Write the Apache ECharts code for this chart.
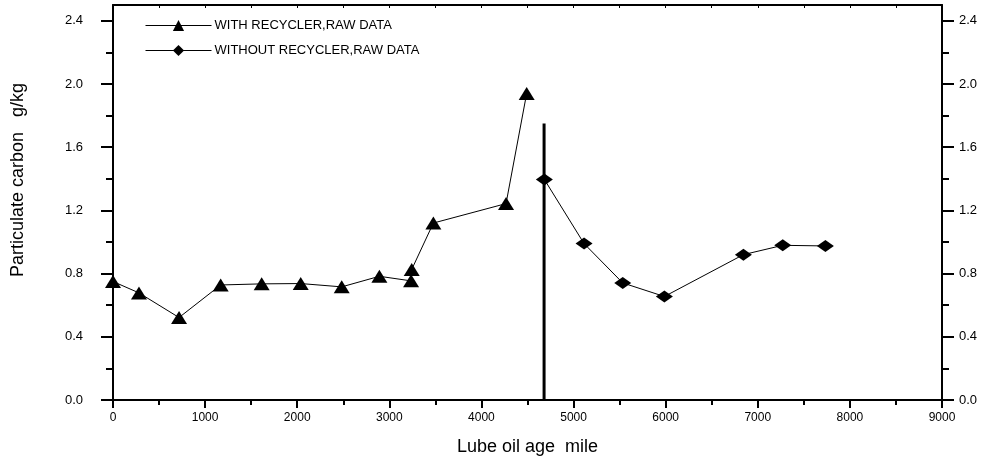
<!DOCTYPE html>
<html>
<head>
<meta charset="utf-8">
<script src="https://cdn.jsdelivr.net/npm/echarts@6/dist/echarts.min.js"></script>
<style>html,body{margin:0;padding:0;background:#fff}#c{width:996px;height:463px}</style>
</head>
<body>
<div id="c"></div>
<script>
var withMiles = [0, 282, 717, 1169, 1614, 2038, 2483, 2892, 3236, 3243, 3478, 4267, 4491];
var withCarbon = [0.75, 0.678, 0.522, 0.728, 0.735, 0.737, 0.716, 0.783, 0.754, 0.826, 1.12, 1.243, 1.94];
var withoutMiles = [4683, 5114, 5534, 5986, 6844, 7271, 7734];
var withoutCarbon = [1.396, 0.99, 0.741, 0.655, 0.92, 0.979, 0.975];
var dividerMile = 4680;
var dividerTop = 1.75;
var yMajorTicks = [0, 0.4, 0.8, 1.2, 1.6, 2.0, 2.4];
var yMinorTicks = [0.2, 0.6, 1.0, 1.4, 1.8, 2.2];
var seriesNames = ['WITH RECYCLER,RAW DATA', 'WITHOUT RECYCLER,RAW DATA'];

function pairs(xs, ys) { return xs.map(function (x, i) { return [x, ys[i]]; }); }

var FONT = 'Liberation Sans, Arial, sans-serif';
var chart = echarts.init(document.getElementById('c'));
var yBase = { type: 'value', min: 0, max: 2.5, splitLine: { show: false } };
function yAxisDef(pos, ticks, len, labels, showLine) {
  return Object.assign({}, yBase, {
    position: pos,
    axisLine: { show: showLine, onZero: false, lineStyle: { color: '#000', width: 2 } },
    axisTick: { show: true, inside: false, length: len, customValues: ticks, lineStyle: { color: '#000', width: 2 } },
    axisLabel: labels ? {
      show: true, customValues: ticks, color: '#000', fontSize: 13, fontFamily: FONT,
      margin: pos === 'left' ? 30 : 17,
      formatter: function (v) { return v.toFixed(1); }
    } : { show: false }
  });
}
chart.setOption({
  animation: false,
  backgroundColor: '#fff',
  grid: { left: 113, right: 54, top: 5, bottom: 63, containLabel: false },
  legend: {
    data: seriesNames,
    orient: 'vertical', left: 140, top: 14,
    itemWidth: 66, itemHeight: 14, itemGap: 12,
    lineStyle: { width: 1 },
    textStyle: { color: '#000', fontSize: 13, fontFamily: FONT, padding: [0, 0, 0, -2] }
  },
  xAxis: [{
    type: 'value', min: 0, max: 9000, interval: 1000, position: 'bottom',
    name: 'Lube oil age  mile', nameLocation: 'middle', nameGap: 38,
    nameTextStyle: { color: '#000', fontSize: 18, fontFamily: FONT },
    axisLine: { show: true, onZero: false, lineStyle: { color: '#000', width: 2 } },
    axisTick: { show: true, length: 8, lineStyle: { color: '#000', width: 2 } },
    minorTick: { show: true, splitNumber: 2, length: 5, lineStyle: { color: '#000', width: 2 } },
    axisLabel: { color: '#000', fontSize: 12, fontFamily: FONT, margin: 12, formatter: function (v) { return String(v); } },
    splitLine: { show: false }
  }, {
    type: 'value', min: 0, max: 9000, interval: 500, position: 'top',
    axisLine: { show: true, onZero: false, lineStyle: { color: '#000', width: 2 } },
    axisTick: { show: true, inside: true, length: 3, lineStyle: { color: '#000', width: 1 } },
    axisLabel: { show: false },
    splitLine: { show: false }
  }],
  yAxis: [
    yAxisDef('left', yMajorTicks, 12, true, true),
    yAxisDef('left', yMinorTicks, 7, false, false),
    yAxisDef('right', yMajorTicks, 12, true, true),
    yAxisDef('right', yMinorTicks, 7, false, false)
  ],
  graphic: [{
    type: 'text', rotation: Math.PI / 2,
    x: 18, y: 180,
    style: { text: 'Particulate carbon   g/kg', fill: '#000', fontSize: 18, fontFamily: FONT, align: 'center', verticalAlign: 'middle' }
  }],
  series: [{
    name: seriesNames[0], type: 'line', data: pairs(withMiles, withCarbon),
    symbol: 'triangle', symbolSize: [16, 13], itemStyle: { color: '#000' },
    lineStyle: { color: '#000', width: 1 }
  }, {
    name: seriesNames[1], type: 'line', data: pairs(withoutMiles, withoutCarbon),
    symbol: 'diamond', symbolSize: [17, 12], itemStyle: { color: '#000' },
    lineStyle: { color: '#000', width: 1 }
  }, {
    name: 'divider', type: 'line', data: [[dividerMile, 0], [dividerMile, dividerTop]],
    symbol: 'none', silent: true, lineStyle: { color: '#000', width: 3 }, z: 1
  }]
});
</script>
</body>
</html>
